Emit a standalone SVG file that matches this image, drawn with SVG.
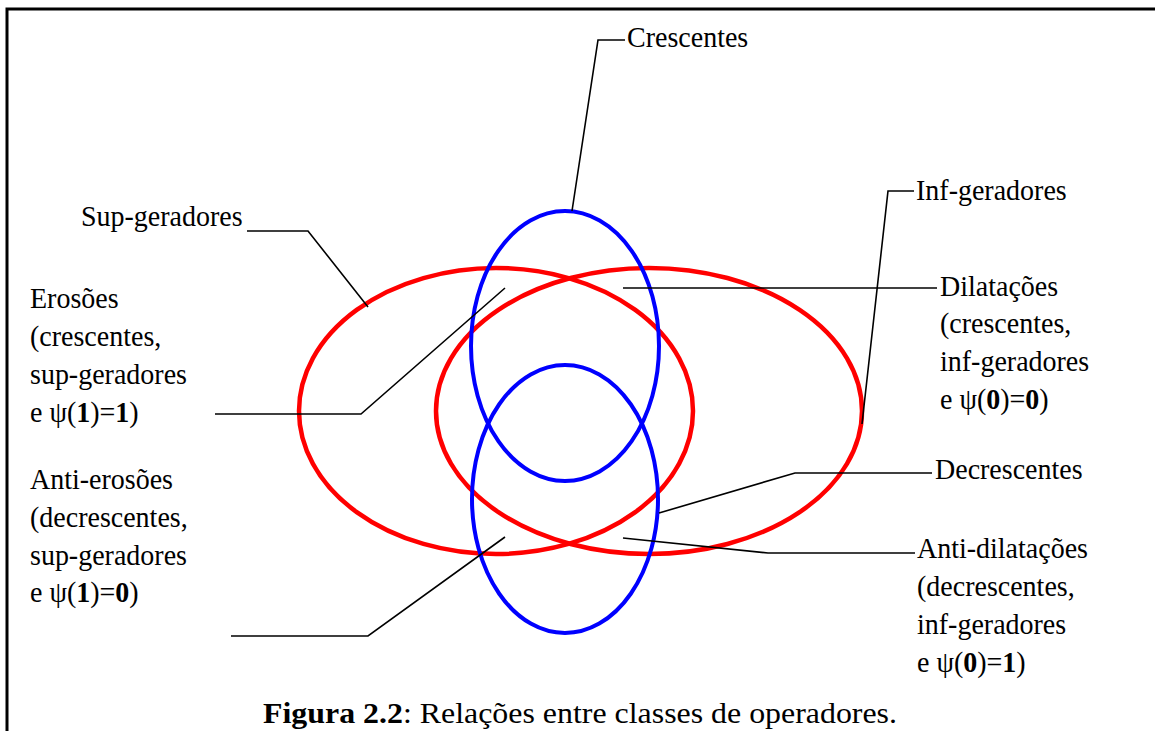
<svg xmlns="http://www.w3.org/2000/svg" width="1155" height="731" viewBox="0 0 1155 731">
<style>
.t{font-family:"Liberation Serif","Times New Roman",serif;font-size:28px;fill:#000}
.b{font-weight:bold}
.red{fill:none;stroke:#FF0000;stroke-width:4.5}
.blue{fill:none;stroke:#0000FF;stroke-width:4}
.lead{fill:none;stroke:#000;stroke-width:1.6}
.frame{fill:none;stroke:#000;stroke-width:3}
</style>
<rect width="1155" height="731" fill="#fff"/>
<path class="frame" d="M7,740 V9 H1160"/>
<g id="sets">
<ellipse id="sup" class="red" cx="496" cy="411" rx="197" ry="143"/>
<ellipse id="inf" class="red" cx="649" cy="411" rx="213" ry="143"/>
<ellipse id="cres" class="blue" cx="565" cy="346" rx="94" ry="135"/>
<ellipse id="decres" class="blue" cx="565" cy="499" rx="93" ry="134"/>
</g>
<g id="connectors">
<polyline class="lead" points="572,211 598,40 625,40"/>
<polyline class="lead" points="862,424 888,191 914,191"/>
<polyline class="lead" points="247,231 308,231 368,307"/>
<polyline class="lead" points="215,414 361,414 505,288"/>
<polyline class="lead" points="231,636 368,636 505,537"/>
<polyline class="lead" points="623,288 937,288"/>
<polyline class="lead" points="659,513 795,473 932,473"/>
<polyline class="lead" points="623,538 768,553 915,553"/>
</g>
<g id="label-crescentes"><text class="t" transform="translate(627,47) scale(1,1.08)">Crescentes</text></g>
<g id="label-inf"><text class="t" transform="translate(916,200) scale(1,1.08)">Inf-geradores</text></g>
<g id="label-sup"><text class="t" transform="translate(81,226) scale(1,1.08)">Sup-geradores</text></g>
<g id="label-erosoes">
<text class="t" transform="translate(30,308) scale(1,1.08)">Erosões</text>
<text class="t" transform="translate(30,346) scale(1,1.08)">(crescentes,</text>
<text class="t" transform="translate(30,384) scale(1,1.08)">sup-geradores</text>
<text class="t" transform="translate(30,422) scale(1,1.08)">e ψ(<tspan class="b">1</tspan>)=<tspan class="b">1</tspan>)</text>
</g>
<g id="label-antierosoes">
<text class="t" transform="translate(30,489) scale(1,1.08)">Anti-erosões</text>
<text class="t" transform="translate(30,527) scale(1,1.08)">(decrescentes,</text>
<text class="t" transform="translate(30,565) scale(1,1.08)">sup-geradores</text>
<text class="t" transform="translate(30,602) scale(1,1.08)">e ψ(<tspan class="b">1</tspan>)=<tspan class="b">0</tspan>)</text>
</g>
<g id="label-dilatacoes">
<text class="t" transform="translate(940,296) scale(1,1.08)">Dilatações</text>
<text class="t" transform="translate(940,333) scale(1,1.08)">(crescentes,</text>
<text class="t" transform="translate(940,371) scale(1,1.08)">inf-geradores</text>
<text class="t" transform="translate(940,409) scale(1,1.08)">e ψ(<tspan class="b">0</tspan>)=<tspan class="b">0</tspan>)</text>
</g>
<g id="label-decrescentes"><text class="t" transform="translate(935,479) scale(1,1.08)">Decrescentes</text></g>
<g id="label-antidilatacoes">
<text class="t" transform="translate(917,558) scale(1,1.08)">Anti-dilatações</text>
<text class="t" transform="translate(917,596) scale(1,1.08)">(decrescentes,</text>
<text class="t" transform="translate(917,634) scale(1,1.08)">inf-geradores</text>
<text class="t" transform="translate(917,672) scale(1,1.08)">e ψ(<tspan class="b">0</tspan>)=<tspan class="b">1</tspan>)</text>
</g>
<g id="caption"><text class="t" style="font-size:30px" x="263" y="723" textLength="634" lengthAdjust="spacingAndGlyphs"><tspan class="b">Figura 2.2</tspan>: Relações entre classes de operadores.</text></g>
</svg>
